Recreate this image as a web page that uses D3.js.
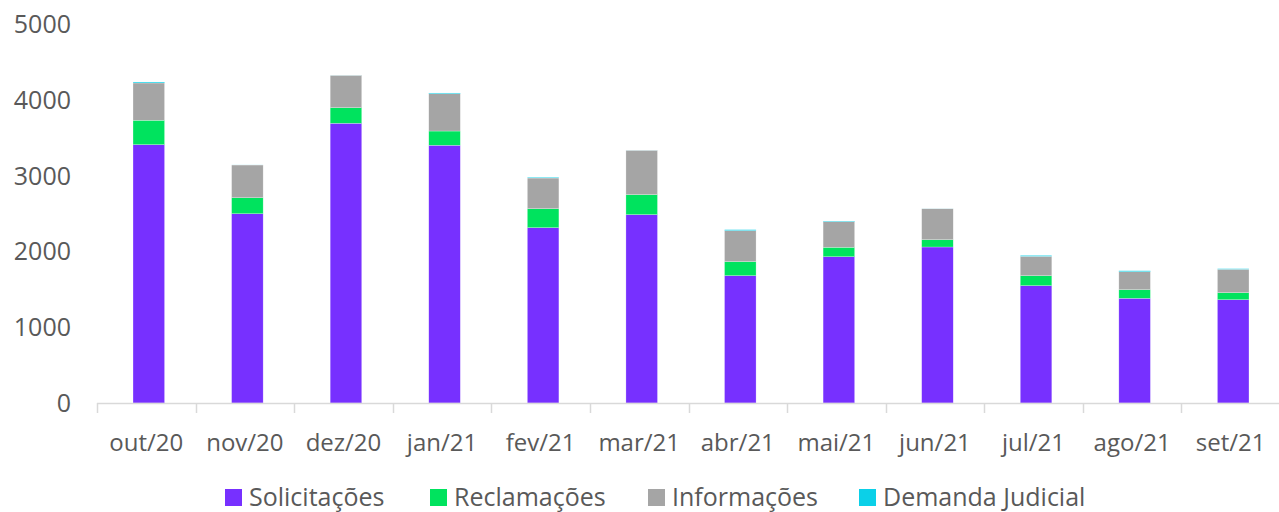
<!DOCTYPE html>
<html>
<head>
<meta charset="utf-8">
<script src="https://cdn.jsdelivr.net/npm/d3@7"></script>
<style>
  body { margin: 0; background: #fff; }
  text { font-family: "Open Sans", sans-serif; fill: #595959; }
</style>
</head>
<body>
<svg id="chart" width="1279" height="512" viewBox="0 0 1279 512"></svg>
<script>
const months = ["out/20", "nov/20", "dez/20", "jan/21", "fev/21", "mar/21", "abr/21", "mai/21", "jun/21", "jul/21", "ago/21", "set/21"];
const seriesNames = ["Solicitações", "Reclamações", "Informações", "Demanda Judicial"];
const solicitacoes = [3408, 2497, 3690, 3400, 2313, 2485, 1680, 1930, 2058, 1548, 1381, 1363];
const reclamacoes = [322, 211, 206, 188, 251, 264, 185, 124, 96, 132, 114, 93];
const informacoes = [492, 432, 427, 492, 404, 585, 409, 338, 409, 255, 237, 308];
const demanda = [13, 1, 1, 10, 10, 1, 13, 8, 1, 12, 13, 8];
const yTicks = [0, 1000, 2000, 3000, 4000, 5000];
const colors = ["#7730FF", "#00E35E", "#A5A5A5", "#0BD0E8"];

const svg = d3.select("#chart");

const rows = months.map((m, i) => ({
    month: m,
    "Solicitações": solicitacoes[i],
    "Reclamações": reclamacoes[i],
    "Informações": informacoes[i],
    "Demanda Judicial": demanda[i]
}));

const stacked = d3.stack().keys(seriesNames)(rows);

// axis band (for ticks) and bar band (bars sit slightly right of center, as in the original)
const axisBand = d3.scaleBand()
    .domain(months)
    .range([97, 1280]);

const x = d3.scaleBand()
    .domain(months)
    .range([99.5, 1282.5])
    .paddingInner(0.68)
    .paddingOuter(0.34);

const y = d3.scaleLinear()
    .domain([0, 5000])
    .range([403, 24]);

const color = d3.scaleOrdinal().domain(seriesNames).range(colors);

// bars
svg.append("g")
    .selectAll("g")
    .data(stacked)
    .enter()
    .append("g")
    .attr("fill", d => color(d.key))
    .selectAll("rect")
    .data(d => d)
    .enter()
    .append("rect")
    .attr("x", d => x(d.data.month))
    .attr("width", x.bandwidth())
    .attr("y", d => y(d[1]))
    .attr("height", d => y(d[0]) - y(d[1]))
    .attr("stroke", "#fff")
    .attr("stroke-opacity", 0.5)
    .attr("stroke-width", 0.5);

// y labels
svg.append("g")
    .selectAll("text")
    .data(yTicks)
    .enter()
    .append("text")
    .attr("x", 71)
    .attr("y", d => y(d))
    .attr("dy", "0.36em")
    .attr("text-anchor", "end")
    .style("font-size", "25px")
    .text(d => d);

// x axis
const bounds = months.map(m => axisBand(m)).concat([1280]);
const axis = svg.append("g");
axis.append("line")
    .attr("x1", 97).attr("x2", 1280)
    .attr("y1", 403.5).attr("y2", 403.5)
    .attr("stroke", "#D9D9D9")
    .attr("stroke-width", 1.5);
axis.selectAll(".tick")
    .data(bounds)
    .enter()
    .append("line")
    .attr("x1", d => Math.round(d) + 0.5)
    .attr("x2", d => Math.round(d) + 0.5)
    .attr("y1", 403)
    .attr("y2", 413)
    .attr("stroke", "#D9D9D9")
    .attr("stroke-width", 1.5);
axis.selectAll("text")
    .data(months)
    .enter()
    .append("text")
    .attr("x", d => axisBand(d) + axisBand.bandwidth() / 2)
    .attr("y", 451)
    .attr("text-anchor", "middle")
    .style("font-size", "24px")
    .text(d => d);

// legend
const legendX = [225, 430, 648, 859];
const legend = svg.append("g");
seriesNames.forEach((name, i) => {
    const item = legend.append("g")
        .attr("transform", `translate(${legendX[i]}, 489)`);
    item.append("rect")
        .attr("width", 17)
        .attr("height", 17)
        .attr("fill", colors[i]);
    item.append("text")
        .attr("x", 24)
        .attr("y", 17)
        .style("font-size", "25px")
        .text(name);
});
</script>
</body>
</html>
